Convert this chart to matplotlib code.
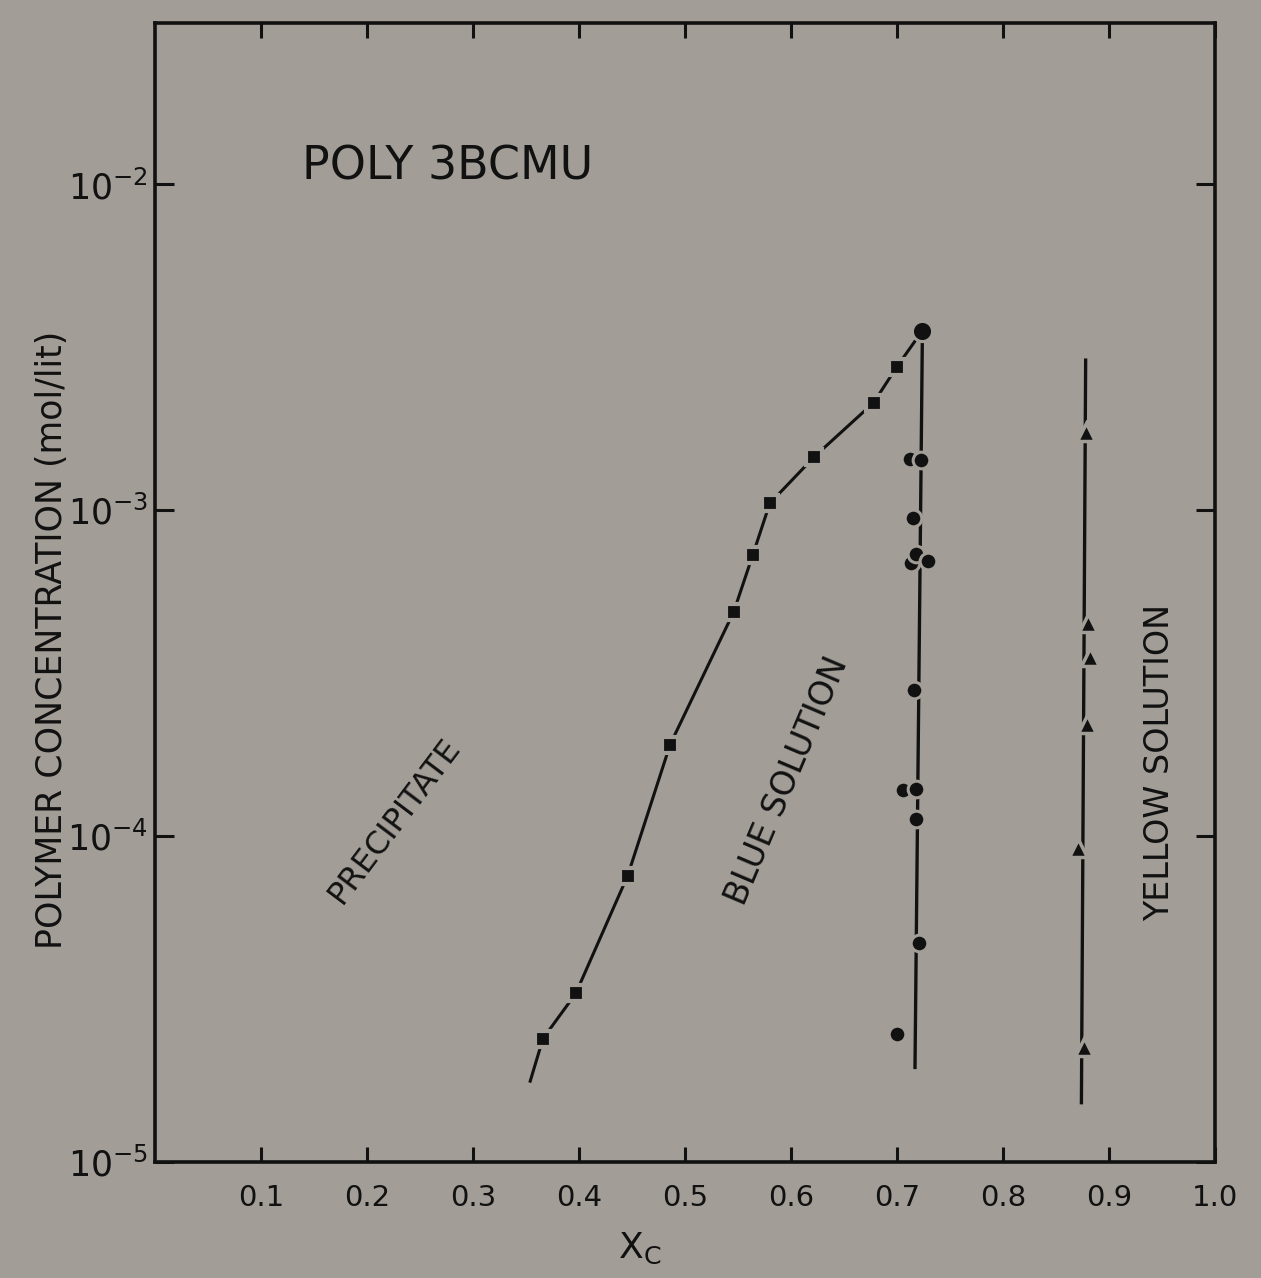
import numpy as np
import matplotlib
matplotlib.use('Agg')
import matplotlib.pyplot as plt
from matplotlib.ticker import NullLocator

plt.rcParams['font.family'] = ['DejaVu Sans']
plt.rcParams['mathtext.default'] = 'regular'

BG = '#a29e97'
INK = '#111111'

# precipitate / blue boundary (squares)
precip_x = [0.366, 0.397, 0.446, 0.486, 0.546, 0.564, 0.580, 0.622, 0.678, 0.700]
precip_y = [2.39e-5, 3.29e-5, 7.57e-5, 1.91e-4, 4.88e-4, 7.30e-4, 1.05e-3, 1.46e-3, 2.14e-3, 2.76e-3]
precip_start = (0.354, 1.77e-5)

# blue / yellow boundary (circles), the top one is where both curves meet
peak = (0.724, 3.56e-3)
blue_x = [0.712, 0.723, 0.715, 0.713, 0.718, 0.729, 0.716, 0.706, 0.718, 0.718, 0.721, 0.700]
blue_y = [1.44e-3, 1.43e-3, 9.45e-4, 6.90e-4, 7.36e-4, 6.97e-4, 2.80e-4, 1.39e-4, 1.40e-4, 1.13e-4, 4.69e-5, 2.47e-5]
blue_end = (0.717, 1.95e-5)

# yellow solution (triangles)
yellow_x = [0.878, 0.880, 0.882, 0.879, 0.871, 0.876]
yellow_y = [1.74e-3, 4.51e-4, 3.55e-4, 2.21e-4, 9.17e-5, 2.25e-5]
yellow_line_x = [0.878, 0.874]
yellow_line_y = [2.89e-3, 1.52e-5]

xticks = [0.1, 0.2, 0.3, 0.4, 0.5, 0.6, 0.7, 0.8, 0.9, 1.0]
xticklabels = ['0.1', '0.2', '0.3', '0.4', '0.5', '0.6', '0.7', '0.8', '0.9', '1.0']
yticks = [1e-5, 1e-4, 1e-3, 1e-2]
yticklabels = ['$10^{-5}$', '$10^{-4}$', '$10^{-3}$', '$10^{-2}$']

fig = plt.figure(figsize=(12.61, 12.78), dpi=100, facecolor=BG)
ax = fig.add_axes([0.1229, 0.0908, 0.8406, 0.8912], facecolor=BG)

# boundary curves; background-coloured marker edges leave small gaps in the line
lx = [precip_start[0]] + precip_x + [peak[0]]
ly = [precip_start[1]] + precip_y + [peak[1]]
ax.plot(lx, ly, color=INK, lw=2.2, zorder=2)
ax.plot([peak[0], blue_end[0]], [peak[1], blue_end[1]], color=INK, lw=2.4, zorder=2)
ax.plot(yellow_line_x, yellow_line_y, color=INK, lw=2.4, zorder=2)

ax.plot(precip_x, precip_y, ls='none', marker='s', ms=11, mfc=INK,
        mec=BG, mew=3, zorder=3)
ax.plot(blue_x, blue_y, ls='none', marker='o', ms=12, mfc=INK,
        mec=BG, mew=2.2, zorder=3)
ax.plot([peak[0]], [peak[1]], ls='none', marker='o', ms=14.5, mfc=INK,
        mec=BG, mew=2.2, zorder=4)
ax.plot(yellow_x, yellow_y, ls='none', marker='^', ms=13, mfc=INK,
        mec=BG, mew=2.5, zorder=3)

ax.set_xlim(0, 1.0)
ax.set_yscale('log')
ax.set_ylim(1e-5, 3.13e-2)
ax.set_xticks(xticks)
ax.set_xticklabels(xticklabels)
ax.set_yticks(yticks)
ax.set_yticklabels(yticklabels)
ax.yaxis.set_minor_locator(NullLocator())
ax.xaxis.set_minor_locator(NullLocator())

for s in ax.spines.values():
    s.set_linewidth(2.6)
    s.set_color(INK)
ax.tick_params(axis='x', direction='in', top=True, length=11, width=2.2,
               labelsize=21, pad=16, colors=INK)
ax.tick_params(axis='y', direction='in', right=True, length=14, width=2.2,
               labelsize=25, pad=5, colors=INK)

ax.text(0.139, 0.874, 'POLY 3BCMU', transform=ax.transAxes, fontsize=33,
        ha='left', va='center', color=INK)
ax.text(0.226, 0.300, 'PRECIPITATE', transform=ax.transAxes, fontsize=23,
        rotation=53, ha='center', va='center', color=INK)
ax.text(0.596, 0.335, 'BLUE SOLUTION', transform=ax.transAxes, fontsize=24,
        rotation=67, ha='center', va='center', color=INK)
ax.text(0.948, 0.351, 'YELLOW SOLUTION', transform=ax.transAxes, fontsize=24,
        rotation=90, ha='center', va='center', color=INK)

fig.text(0.0412, 0.499, 'POLYMER CONCENTRATION (mol/lit)', rotation=90,
         fontsize=25, ha='center', va='center', color=INK)
fig.text(0.5075, 0.0235, 'X$_C$', fontsize=26, ha='center', va='center', color=INK)

fig.savefig('out.png', dpi=100, facecolor=BG)
